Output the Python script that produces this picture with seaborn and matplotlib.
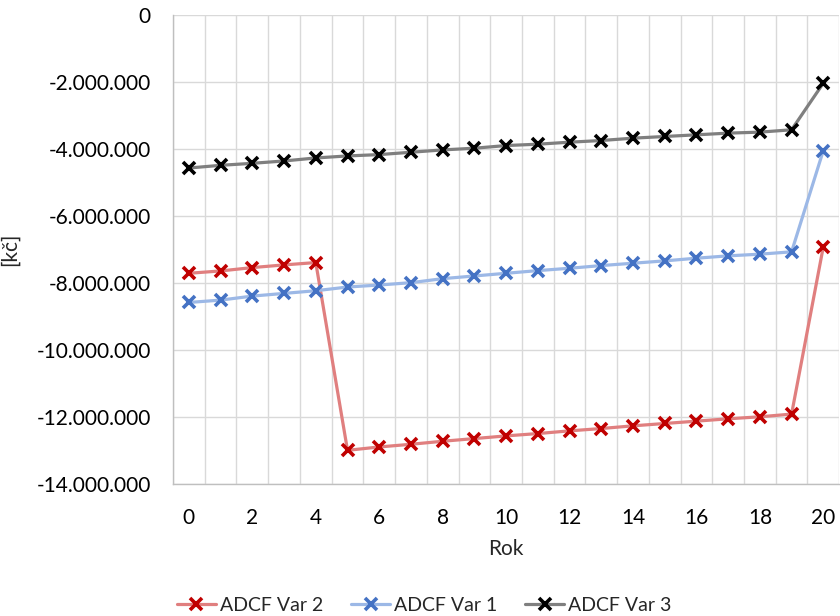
import matplotlib
matplotlib.use("Agg")
import matplotlib.pyplot as plt
import matplotlib.ticker as mticker
import seaborn as sns
import pandas as pd
import numpy as np

years = list(range(21))
var2 = [-7.71, -7.64, -7.54, -7.46, -7.39, -12.99, -12.89, -12.81, -12.72, -12.64,
        -12.56, -12.49, -12.41, -12.34, -12.26, -12.19, -12.12, -12.05, -11.99, -11.91, -6.92]
var1 = [-8.58, -8.51, -8.39, -8.31, -8.23, -8.12, -8.06, -7.99, -7.87, -7.79,
        -7.71, -7.63, -7.56, -7.48, -7.41, -7.34, -7.26, -7.19, -7.14, -7.07, -4.05]
var3 = [-4.57, -4.49, -4.43, -4.36, -4.27, -4.21, -4.17, -4.10, -4.03, -3.98,
        -3.90, -3.86, -3.80, -3.75, -3.68, -3.63, -3.58, -3.53, -3.50, -3.43, -2.04]
series_names = ["ADCF Var 2", "ADCF Var 1", "ADCF Var 3"]
series_vals = [var2, var1, var3]
line_colors = ["#E07F7F", "#9CB8E6", "#7F7F7F"]
marker_colors = ["#C00000", "#4472C4", "#000000"]

sns.set_theme(style="white")
plt.rcParams['font.family'] = ['Lato', 'DejaVu Sans']

fig = plt.figure(figsize=(8.4, 6.16), dpi=100)
ax = fig.add_axes([0.206, 0.214, 0.793, 0.762])

for name, vals, lc, mc in zip(series_names, series_vals, line_colors, marker_colors):
    df = pd.DataFrame({"Rok": years, "v": np.array(vals) * 1e6})
    sns.lineplot(data=df, x="Rok", y="v", ax=ax, color=lc, linewidth=2.3,
                 marker="x", markersize=9, markeredgewidth=2.6,
                 markeredgecolor=mc, markerfacecolor=mc, label=name, legend=False)

ax.set_xlim(-0.5, 20.5)
ax.set_ylim(-14e6, 0)
ax.set_xticks(range(0, 21, 2))
ax.set_xticks(np.arange(-0.5, 20.6, 1), minor=True)
ax.set_yticks(np.arange(-14e6, 1, 2e6))
ax.yaxis.set_major_formatter(mticker.FuncFormatter(
    lambda v, p: f"{int(round(v)):,}".replace(",", ".")))
ax.grid(False)
ax.grid(True, axis="y", which="major", color="#D9D9D9", linewidth=1)
ax.grid(True, axis="x", which="minor", color="#D9D9D9", linewidth=1)
ax.set_axisbelow(True)
for s in ["top", "right"]:
    ax.spines[s].set_visible(False)
for s in ["left", "bottom"]:
    ax.spines[s].set_color("#BFBFBF")
    ax.spines[s].set_linewidth(1)
ax.tick_params(axis="x", which="major", length=0, labelsize=15, colors="#000000", pad=17)
ax.tick_params(axis="x", which="minor", length=0)
ax.tick_params(axis="y", which="major", length=6, color="#BFBFBF", labelsize=15, colors="#000000", pad=10)
ax.set_xlabel("Rok", fontsize=15, labelpad=8)
ax.set_ylabel("[kč]", fontsize=15, labelpad=12)

handles, labels = ax.get_legend_handles_labels()
fig.legend(handles, labels, loc="lower center", bbox_to_anchor=(0.505, -0.025), ncol=3,
           frameon=False, fontsize=14, handlelength=2.0, handletextpad=0.2, columnspacing=1.45)

fig.savefig("out.png", dpi=100)
